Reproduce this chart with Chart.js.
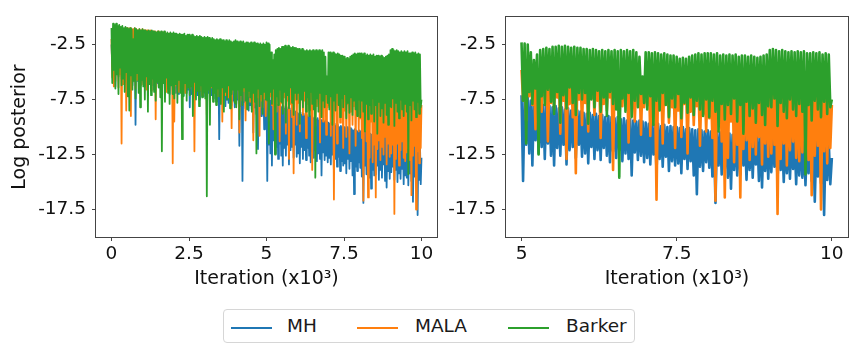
<!DOCTYPE html>
<html>
<head>
<meta charset="utf-8">
<script src="https://cdn.jsdelivr.net/npm/chart.js@4"></script>
<style>
  body { margin: 0; background: #fff; font-family: "DejaVu Sans", sans-serif; }
  #wrap { position: relative; width: 849px; height: 345px; overflow: hidden; }
  canvas { position: absolute; top: 0; }
  #left { left: 0; }
  #right { left: 430px; }
  #legend {
    position: absolute; left: 223px; top: 309px; width: 412px; height: 34px;
    border: 1px solid #d6d6d6; border-radius: 4px; box-sizing: border-box;
  }
  .line { position: absolute; top: 17px; width: 41px; height: 2px; }
  .lbl { position: absolute; top: 5px; font-size: 18.5px; color: #1a1a1a; line-height: 22px; }
</style>
</head>
<body>
<div id="wrap">
  <canvas id="left" width="445" height="300"></canvas>
  <canvas id="right" width="419" height="300"></canvas>
  <div id="legend"></div>
</div>
<script>
// traces thinned to one sample every 25 iterations, x in thousands
const seriesNames = ["MH", "MALA", "Barker"];
const seriesColors = ["#1f77b4", "#ff7f0e", "#2ca02c"];

const mh = [
  -2.5, -4.5, -1.5, -5.8, -1.6, -6.3, -1.8, -5.0, -1.9, -5.4, -2.0, -4.9, -2.1, -5.6, -2.0, -5.2, -2.2, -5.9, -2.1, -5.0,
  -2.2, -5.6, -2.3, -6.0, -2.2, -5.3, -2.4, -6.2, -2.3, -5.5, -2.4, -9.8, -2.5, -5.8, -2.4, -5.1, -2.5, -6.1, -2.6, -5.4,
  -2.6, -5.9, -2.7, -6.3, -2.8, -5.5, -2.7, -6.5, -2.8, -5.7, -2.9, -6.2, -2.8, -5.4, -3.0, -6.6, -2.9, -5.8, -3.0, -6.0,
  -3.1, -6.4, -3.2, -5.7, -3.1, -6.7, -3.2, -6.0, -3.3, -6.9, -3.2, -5.8, -3.3, -6.5, -3.4, -7.0, -3.3, -6.1, -3.4, -6.6,
  -3.6, -6.4, -3.7, -6.9, -3.6, -6.1, -3.7, -7.0, -3.8, -6.5, -3.7, -6.8, -3.8, -7.1, -3.9, -6.3, -3.8, -6.9, -3.9, -6.6,
  -4.1, -8.2, -4.2, -7.0, -4.1, -6.6, -4.2, -7.3, -4.3, -6.8, -4.2, -7.1, -4.3, -7.5, -4.4, -6.7, -4.3, -7.2, -4.4, -6.9,
  -4.6, -7.2, -4.7, -7.6, -4.6, -6.9, -4.7, -7.8, -4.8, -7.1, -4.7, -7.4, -4.8, -6.8, -4.9, -7.7, -4.8, -7.0, -4.9, -11.1,
  -5.1, -7.4, -5.2, -7.9, -5.1, -7.2, -5.2, -8.1, -5.3, -7.5, -5.2, -7.8, -5.3, -7.3, -5.4, -8.0, -5.3, -7.6, -5.4, -8.2,
  -5.6, -7.9, -5.7, -7.5, -5.6, -11.7, -5.7, -8.1, -5.8, -14.9, -5.7, -7.7, -5.8, -8.3, -5.9, -7.8, -5.8, -8.5, -5.9, -8.0,
  -6.1, -8.4, -6.2, -10.5, -6.1, -8.2, -6.3, -8.8, -6.2, -12.0, -6.3, -8.6, -6.4, -9.0, -6.3, -8.3, -6.4, -10.2, -6.5, -8.9,
  -7.1, -14.9, -7.4, -11.6, -7.3, -12.4, -7.6, -13.5, -7.5, -11.2, -7.8, -12.4, -7.7, -11.8, -8.0, -12.9, -7.9, -11.5, -8.1, -12.6,
  -8.2, -13.5, -8.1, -11.9, -8.3, -12.6, -8.2, -11.6, -8.4, -13.4, -8.3, -12.1, -8.5, -11.8, -8.4, -12.8, -8.5, -11.6, -8.6, -12.7,
  -8.7, -12.4, -8.8, -13.3, -8.7, -11.8, -8.9, -12.9, -8.8, -12.1, -9.0, -13.0, -8.9, -11.9, -9.1, -12.6, -9.0, -13.2, -9.1, -12.2,
  -9.2, -12.8, -9.1, -12.1, -9.3, -13.1, -9.2, -12.4, -9.4, -12.9, -9.3, -14.4, -9.4, -12.3, -9.5, -13.0, -9.4, -12.6, -9.5, -13.2,
  -9.6, -12.8, -9.7, -13.4, -9.6, -12.5, -9.8, -14.1, -9.7, -12.9, -9.9, -13.6, -9.8, -12.7, -10.0, -14.0, -9.9, -13.1, -10.0, -13.5,
  -10.0, -13.3, -10.1, -14.2, -10.0, -12.9, -10.2, -13.8, -10.1, -13.1, -10.2, -14.4, -10.3, -16.1, -10.2, -13.6, -10.3, -14.0, -10.4, -13.2,
  -10.3, -13.7, -10.4, -14.5, -10.5, -16.9, -10.4, -13.5, -10.5, -14.3, -10.6, -13.8, -10.5, -14.6, -10.6, -15.6, -10.7, -13.9, -10.6, -14.4,
  -10.5, -14.3, -10.6, -13.5, -10.7, -14.8, -10.6, -13.9, -10.8, -14.6, -10.7, -13.4, -10.8, -14.9, -10.7, -15.5, -10.9, -14.0, -10.8, -14.7,
  -10.8, -14.1, -10.9, -13.6, -11.0, -14.8, -10.9, -13.9, -11.1, -15.0, -11.0, -14.2, -11.1, -14.7, -11.0, -13.8, -11.2, -15.2, -11.1, -14.4,
  -11.0, -14.6, -11.1, -15.3, -11.2, -14.2, -11.1, -14.9, -11.2, -16.8, -11.3, -14.5, -11.2, -15.1, -11.3, -18.0, -11.2, -14.8, -11.3, -15.2,
  -12.8
];

const mala = [
  -2.0, -5.5, -1.0, -6.3, -1.1, -5.8, -1.0, -4.9, -1.1, -6.4, -1.0, -5.2, -1.1, -11.5, -1.0, -6.1, -1.1, -5.4, -1.0, -8.5,
  -1.0, -6.0, -1.1, -5.1, -1.0, -9.0, -1.1, -5.9, -1.1, -5.0, -1.0, -6.5, -1.1, -5.7, -1.2, -4.8, -1.1, -6.2, -1.2, -5.5,
  -1.1, -6.1, -1.2, -5.3, -1.2, -6.6, -1.2, -5.0, -1.3, -5.8, -1.2, -6.7, -1.3, -5.2, -1.3, -6.0, -1.3, -9.3, -1.4, -5.6,
  -1.3, -6.3, -1.4, -5.4, -1.4, -6.6, -1.4, -5.1, -1.4, -6.0, -1.5, -6.8, -1.5, -5.5, -1.5, -6.2, -1.6, -5.7, -2.2, -13.3,
  -2.5, -9.5, -3.0, -6.2, -2.8, -5.6, -3.0, -6.8, -3.2, -5.9, -3.1, -6.4, -3.3, -5.3, -3.2, -6.9, -3.3, -6.0, -3.4, -5.7,
  -3.3, -6.5, -3.4, -5.8, -3.3, -7.0, -3.5, -12.2, -3.4, -6.1, -3.5, -5.6, -3.6, -6.7, -3.5, -5.9, -3.6, -7.1, -3.5, -6.3,
  -3.6, -6.6, -3.5, -8.9, -3.8, -6.0, -3.7, -7.0, -3.9, -6.4, -4.0, -5.8, -3.8, -6.9, -4.1, -6.2, -4.0, -7.2, -3.9, -6.5,
  -4.0, -6.8, -4.1, -9.5, -4.0, -6.3, -4.2, -7.1, -4.1, -6.0, -4.2, -7.3, -4.3, -6.6, -4.2, -10.1, -4.3, -6.4, -4.2, -7.0,
  -4.1, -7.4, -4.3, -6.5, -4.2, -10.5, -4.4, -7.0, -4.5, -7.6, -4.3, -6.7, -4.4, -9.4, -4.5, -7.2, -4.4, -6.8, -4.5, -7.7,
  -4.5, -7.5, -4.6, -11.2, -4.5, -7.0, -4.6, -8.0, -4.7, -7.3, -4.6, -10.8, -4.7, -7.6, -4.6, -8.2, -4.8, -7.4, -4.7, -9.0,
  -4.8, -7.6, -4.7, -9.4, -4.9, -7.2, -4.8, -8.0, -5.0, -10.2, -4.9, -7.4, -5.0, -8.6, -4.9, -7.1, -5.0, -11.3, -5.1, -7.8,
  -5.0, -8.4, -5.1, -7.3, -5.0, -10.6, -5.2, -7.6, -5.1, -12.9, -5.2, -7.9, -5.1, -9.1, -5.2, -14.2, -5.3, -7.5, -5.2, -9.8,
  -5.1, -7.8, -5.3, -10.4, -5.2, -7.4, -5.4, -8.9, -5.3, -7.6, -5.5, -11.0, -5.4, -7.9, -5.5, -8.5, -5.4, -7.3, -5.5, -13.9,
  -5.4, -7.7, -5.5, -9.9, -5.6, -8.1, -5.5, -7.4, -5.6, -11.4, -5.7, -7.8, -5.6, -9.5, -5.7, -7.6, -5.6, -10.7, -5.7, -8.2,
  -5.6, -8.0, -5.5, -10.8, -5.7, -7.7, -5.6, -16.6, -5.8, -8.4, -5.7, -11.5, -5.9, -7.9, -5.8, -9.6, -6.0, -8.2, -5.9, -11.9,
  -5.8, -8.5, -5.9, -10.9, -6.0, -7.9, -5.9, -12.4, -6.0, -8.6, -6.1, -9.8, -6.0, -8.1, -6.1, -11.7, -6.2, -8.8, -6.1, -10.4,
  -6.0, -9.2, -6.1, -11.0, -6.0, -16.7, -6.2, -8.7, -6.1, -11.3, -6.3, -16.4, -6.2, -12.8, -6.4, -9.5, -6.3, -13.2, -6.5, -11.6,
  -6.4, -16.4, -6.3, -12.0, -6.5, -11.2, -6.4, -13.0, -6.6, -11.8, -6.5, -12.5, -6.6, -10.9, -6.5, -13.4, -6.7, -11.5, -6.6, -12.7,
  -6.4, -12.4, -6.5, -11.6, -6.3, -17.9, -6.6, -12.9, -6.5, -11.5, -6.7, -13.5, -6.6, -12.1, -6.8, -11.3, -6.7, -12.8, -6.8, -13.1,
  -6.6, -12.3, -6.7, -11.9, -6.8, -13.0, -6.7, -16.2, -6.9, -12.6, -6.8, -11.7, -6.9, -17.5, -7.0, -12.2, -6.9, -13.3, -7.0, -11.9,
  -8.0
];

const barker = [
  -1.0, -6.0, -0.6, -4.8, -0.7, -6.5, -0.6, -5.2, -0.8, -7.0, -0.7, -4.6, -0.9, -6.2, -0.8, -5.6, -1.0, -6.8, -0.9, -5.0,
  -1.0, -7.2, -1.1, -8.5, -1.0, -5.3, -1.1, -6.6, -2.0, -5.8, -1.0, -7.4, -1.1, -5.1, -1.2, -6.9, -1.1, -8.2, -1.2, -5.7,
  -1.1, -6.3, -1.2, -7.5, -1.2, -5.4, -1.3, -8.6, -1.2, -6.1, -1.3, -7.1, -1.2, -5.6, -1.3, -6.8, -1.3, -7.6, -1.4, -5.9,
  -1.3, -6.4, -1.4, -7.3, -1.3, -12.2, -1.4, -6.0, -1.3, -7.7, -1.5, -5.5, -1.4, -6.9, -1.5, -7.9, -1.4, -6.2, -1.5, -7.0,
  -1.4, -7.4, -1.5, -6.1, -1.5, -7.8, -1.6, -5.7, -1.5, -6.9, -1.6, -11.1, -1.6, -7.2, -1.5, -6.0, -1.7, -7.6, -1.6, -6.4,
  -1.6, -7.1, -1.7, -6.3, -1.6, -9.0, -1.7, -5.9, -1.8, -7.5, -1.7, -6.7, -1.8, -8.1, -1.7, -6.2, -1.8, -7.3, -1.9, -6.8,
  -1.8, -7.4, -1.9, -16.3, -1.8, -6.6, -1.9, -9.8, -2.0, -6.3, -1.9, -7.7, -2.0, -6.9, -2.1, -8.0, -2.0, -6.5, -2.1, -7.2,
  -2.0, -7.9, -2.1, -6.4, -2.1, -8.6, -2.2, -6.8, -2.1, -7.5, -2.2, -6.2, -2.1, -8.3, -2.2, -7.0, -2.3, -6.6, -2.2, -7.8,
  -2.1, -8.2, -2.2, -6.6, -2.3, -9.3, -2.2, -7.1, -2.3, -8.0, -2.2, -6.4, -2.4, -7.6, -2.3, -8.4, -2.3, -6.7, -2.4, -7.3,
  -2.3, -8.6, -2.4, -6.9, -2.3, -7.7, -2.4, -12.4, -2.4, -6.5, -2.5, -8.1, -2.4, -7.0, -2.5, -8.8, -2.4, -6.8, -2.5, -7.5,
  -2.3, -7.6, -2.4, -11.5, -2.5, -6.8, -3.2, -7.9, -3.9, -6.5, -3.4, -12.5, -3.0, -7.2, -2.9, -8.0, -2.8, -6.6, -2.9, -7.7,
  -2.7, -8.8, -2.7, -6.8, -2.6, -9.6, -2.7, -7.1, -2.6, -8.3, -2.7, -6.4, -2.8, -7.8, -2.7, -8.9, -2.8, -6.9, -2.8, -7.5,
  -2.9, -6.9, -2.9, -9.7, -3.0, -7.5, -2.9, -8.2, -3.0, -6.7, -3.1, -8.6, -3.0, -7.3, -3.1, -9.0, -3.0, -6.8, -3.1, -7.9,
  -3.0, -8.4, -3.1, -14.6, -3.0, -7.4, -3.1, -8.6, -3.0, -6.9, -3.1, -9.1, -3.0, -7.6, -3.2, -8.2, -3.6, -7.0, -5.4, -7.8,
  -3.2, -8.4, -3.2, -7.2, -3.3, -9.8, -3.2, -7.6, -3.3, -8.5, -3.4, -6.9, -3.3, -8.0, -3.4, -9.1, -3.5, -7.4, -3.5, -8.2,
  -3.6, -7.0, -3.8, -9.2, -3.7, -7.8, -3.8, -8.7, -3.6, -7.3, -3.5, -8.9, -3.4, -7.6, -3.3, -8.4, -3.4, -9.0, -3.3, -7.5,
  -3.3, -9.1, -3.3, -7.6, -3.4, -8.6, -3.3, -10.4, -3.5, -7.9, -3.4, -9.3, -3.5, -8.0, -3.4, -8.8, -3.5, -7.4, -3.4, -9.5,
  -3.6, -8.0, -3.5, -10.6, -3.5, -7.7, -3.6, -9.0, -3.5, -8.3, -3.6, -9.6, -3.7, -7.8, -3.6, -8.9, -3.5, -9.8, -3.4, -8.1,
  -3.0, -8.2, -2.9, -7.4, -3.0, -9.9, -3.1, -7.8, -3.0, -8.6, -3.1, -9.2, -3.2, -7.5, -3.1, -8.4, -3.2, -9.0, -3.1, -7.9,
  -3.2, -8.6, -3.1, -14.3, -3.3, -8.0, -3.3, -9.4, -3.2, -7.6, -3.3, -8.4, -3.2, -9.1, -3.4, -7.7, -3.3, -8.8, -3.4, -8.2,
  -7.5
];

const iterations = mh.map((_, i) => i * 0.025);

const xTicksLeft = [0, 2.5, 5, 7.5, 10];
const xTicksRight = [5, 7.5, 10];
const yTicks = [-2.5, -7.5, -12.5, -17.5];
const yTitle = "Log posterior";
const xTitle = "Iteration (x10³)";

const tickFont = { family: "DejaVu Sans", size: 18.5 };
const titleFont = { family: "DejaVu Sans", size: 19 };

const frame = {
  id: "frame",
  afterDatasetsDraw(chart) {
    const a = chart.chartArea;
    const ctx = chart.ctx;
    ctx.save();
    ctx.strokeStyle = "#444";
    ctx.lineWidth = 1;
    ctx.strokeRect(Math.round(a.left) - 0.5, Math.round(a.top) - 0.5,
      Math.round(a.right - a.left) + 1, Math.round(a.bottom - a.top) + 1);
    ctx.restore();
  }
};

function makeChart(id, start, xMin, xMax, xTicks, yAxisWidth, padRight, showTitle, lineWidth) {
  const data = [mh, mala, barker];
  return new Chart(document.getElementById(id), {
    type: "line",
    data: {
      labels: iterations.slice(start),
      datasets: data.map((d, i) => ({
        label: seriesNames[i],
        data: d.slice(start),
        borderColor: seriesColors[i],
        borderWidth: lineWidth,
        borderJoinStyle: "round",
        pointRadius: 0,
        tension: 0,
        order: 3 - i
      }))
    },
    options: {
      responsive: false,
      animation: false,
      layout: { padding: { top: 7, right: padRight, left: 0, bottom: 0 } },
      plugins: { legend: { display: false }, tooltip: { enabled: false } },
      scales: {
        x: {
          type: "linear",
          min: xMin,
          max: xMax,
          afterBuildTicks: s => { s.ticks = xTicks.map(v => ({ value: v })); },
          afterFit: s => { s.height = 63; },
          border: { display: false },
          grid: { drawOnChartArea: false, drawTicks: true, tickLength: 4, color: "#444" },
          ticks: { font: tickFont, color: "#111", padding: 2, maxRotation: 0, callback: v => String(v) },
          title: { display: true, text: xTitle, font: titleFont, color: "#111", padding: { top: 0, bottom: 10 } }
        },
        y: {
          min: -20,
          max: 0,
          afterBuildTicks: s => { s.ticks = yTicks.map(v => ({ value: v })); },
          afterFit: s => { s.width = yAxisWidth; },
          border: { display: false },
          grid: { drawOnChartArea: false, drawTicks: true, tickLength: 4, color: "#444" },
          ticks: { font: tickFont, color: "#111", padding: 6, callback: v => String(v) },
          title: { display: showTitle, text: yTitle, font: titleFont, color: "#111", padding: { top: 9, bottom: 0 } }
        }
      }
    },
    plugins: [frame]
  });
}

makeChart("left", 0, -0.5, 10.5, xTicksLeft, 96, 8, true, 1.8);
makeChart("right", 200, 4.75, 10.26, xTicksRight, 76, 1, false, 2.6);

// legend
const legend = document.getElementById("legend");
const lineX = [7, 133, 284];
const textX = [63, 191, 342];
seriesNames.forEach((name, i) => {
  const ln = document.createElement("div");
  ln.className = "line";
  ln.style.left = lineX[i] + "px";
  ln.style.background = seriesColors[i];
  legend.appendChild(ln);
  const t = document.createElement("div");
  t.className = "lbl";
  t.style.left = textX[i] + "px";
  t.textContent = name;
  legend.appendChild(t);
});
</script>
</body>
</html>
